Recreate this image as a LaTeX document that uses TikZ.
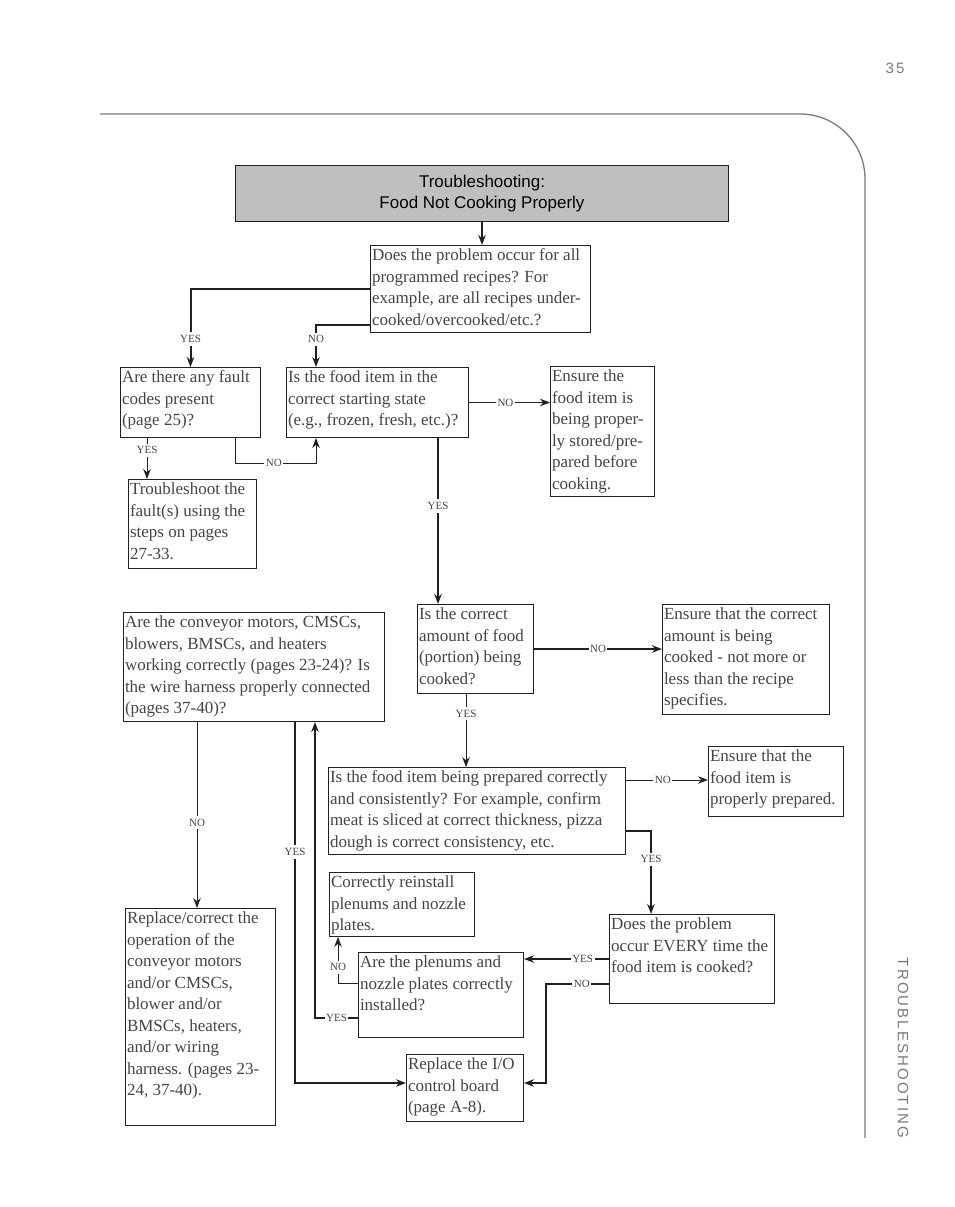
\documentclass[tikz,border=0pt]{standalone}
\usepackage{fontspec}
\setmainfont{Liberation Serif}
\setsansfont{Liberation Sans}
\newfontfamily\spacedsans[LetterSpace=14]{Liberation Sans}
\usepackage{tikz}
\usetikzlibrary{arrows.meta}
\definecolor{ink}{HTML}{231F20}
\definecolor{txt}{HTML}{444444}
\definecolor{pagegray}{HTML}{7A7A7A}
\newcommand{\tb}[3]{\parbox[t][#2pt][t]{#1pt}{\leftskip=1.5pt\rule{0pt}{15pt}#3}}

\begin{document}
\begin{tikzpicture}[x=1pt,y=-1pt]
\tikzset{box/.style = {draw=ink, line width=1pt, anchor=north west, inner sep=0pt, text=txt, font=\fontsize{17}{21.5}\selectfont}}
\tikzset{title/.style = {draw=ink, line width=1pt, fill=gray!50, anchor=north west, minimum width=493pt, minimum height=56pt, align=center, font=\sffamily\fontsize{17}{21}\selectfont}}
\tikzset{edge/.style = {->, > = {Stealth[length=10pt,width=7.5pt]}, draw=ink, line width=1pt}}
\tikzset{mainedge/.style = {edge, line width=2pt}}
\tikzset{lbl/.style = {fill=white, inner xsep=1.5pt, inner ysep=3pt, text=txt, font=\fontsize{11}{12}\selectfont}}
\useasboundingbox (0,0) rectangle (954,1207);
\draw[pagegray, line width=1.3pt, rounded corners=65pt] (100,114) -- (865,114) -- (865,1138);
\node[text=pagegray, font=\spacedsans\fontsize{15}{15}\selectfont] (pnum) at (895,68) {35};
\node[rotate=-90, text=pagegray, font=\spacedsans\fontsize{15}{15}\selectfont] (side) at (903,1048) {TROUBLESHOOTING};
\node[title] (head) at (235,165) {Troubleshooting:\\Food Not Cooking Properly};
\node[box] (q1) at (370,245) {\tb{220}{87}{Does the problem occur for all\\programmed recipes? For\\example, are all recipes under-\\cooked/overcooked/etc.?}};
\node[box] (fault) at (120,367) {\tb{140}{70}{Are there any fault\\codes present\\(page 25)?}};
\node[box] (state) at (286,367) {\tb{182}{70}{Is the food item in the\\correct starting state\\(e.g., frozen, fresh, etc.)?}};
\node[box] (ens1) at (550,366) {\tb{104}{130}{Ensure the\\food item is\\being proper-\\ly stored/pre-\\pared before\\cooking.}};
\node[box] (tshoot) at (128,479) {\tb{128}{89}{Troubleshoot the\\fault(s) using the\\steps on pages\\27-33.}};
\node[box] (conv) at (123,612) {\tb{261}{109}{Are the conveyor motors, CMSCs,\\blowers, BMSCs, and heaters\\working correctly (pages 23-24)? Is\\the wire harness properly connected\\(pages 37-40)?}};
\node[box] (amount) at (417,604) {\tb{116}{89}{Is the correct\\amount of food\\(portion) being\\cooked?}};
\node[box] (ens2) at (662,604) {\tb{167}{110}{Ensure that the correct\\amount is being\\cooked - not more or\\less than the recipe\\specifies.}};
\node[box] (prep) at (328,767) {\tb{297}{87}{Is the food item being prepared correctly\\and consistently? For example, confirm\\meat is sliced at correct thickness, pizza\\dough is correct consistency, etc.}};
\node[box] (ens3) at (708,746) {\tb{135}{70}{Ensure that the\\food item is\\properly prepared.}};
\node[box] (reinst) at (329,872) {\tb{145}{64}{Correctly reinstall\\plenums and nozzle\\plates.}};
\node[box] (every) at (609,914) {\tb{165}{89}{Does the problem\\occur EVERY time the\\food item is cooked?}};
\node[box] (plen) at (358,952) {\tb{165}{85}{Are the plenums and\\nozzle plates correctly\\installed?}};
\node[box] (repl) at (125,908) {\tb{150}{217}{Replace/correct the\\operation of the\\conveyor motors\\and/or CMSCs,\\blower and/or\\BMSCs, heaters,\\and/or wiring\\harness. (pages 23-\\24, 37-40).}};
\node[box] (io) at (406,1054) {\tb{117}{67}{Replace the I/O\\control board\\(page A-8).}};
\draw[mainedge] (head) -- (head |- q1.north);
\draw[mainedge] (q1.west) -| node[lbl, pos=0.82] {YES} (fault.north);
\draw[mainedge] ([yshift=8pt]q1.south west) -| node[lbl, pos=0.67] {NO} ([xshift=30pt]state.north west);
\draw[edge] ([xshift=27pt]fault.south west) -- node[lbl, pos=0.3] {YES} ([xshift=27pt]fault.south west |- tshoot.north);
\draw[edge] ([xshift=115pt]fault.south west) -- ++(0,25) -| node[lbl, pos=0.24] {NO} ([xshift=30pt]state.south west);
\draw[edge] (state.east) -- node[lbl, pos=0.45] {NO} (state.east -| ens1.west);
\draw[mainedge] ([xshift=152pt]state.south west) -- node[lbl, pos=0.41] {YES} ([xshift=152pt]state.south west |- amount.north);
\draw[mainedge] (amount.east) -- node[lbl] {NO} (amount.east -| ens2.west);
\draw[edge] ([xshift=49pt]amount.south west) -- node[lbl, pos=0.27] {YES} ([xshift=49pt]amount.south west |- prep.north);
\draw[edge] ([yshift=-13pt]prep.north east) -- node[lbl, pos=0.45] {NO} ([yshift=-13pt]prep.north east -| ens3.west);
\draw[mainedge] ([yshift=24pt]prep.south east) -| node[lbl, pos=0.67] {YES} ([xshift=42pt]every.north west);
\draw[mainedge] ([yshift=-45pt]every.north west) -- node[lbl, pos=0.31] {YES} ([yshift=-45pt]every.north west -| plen.east);
\draw[mainedge] ([yshift=-70pt]every.north west) -- node[lbl, pos=0.43] {NO} ++(-63,0) |- ([yshift=-29pt]io.north east);
\draw[edge] ([yshift=-31pt]plen.north west) -| node[lbl, pos=0.67] {NO} ([xshift=9pt]reinst.south west);
\draw[mainedge] ([yshift=-66pt]plen.north west) -| node[lbl, pos=0.25] {YES} ([xshift=192pt]conv.south west);
\draw[mainedge] ([xshift=172pt]conv.south west) |- node[lbl, pos=0.18] {YES} ([yshift=-29pt]io.north west);
\draw[edge] ([xshift=74pt]conv.south west) -- node[lbl, pos=0.54] {NO} ([xshift=74pt]conv.south west |- repl.north);
\end{tikzpicture}
\end{document}
